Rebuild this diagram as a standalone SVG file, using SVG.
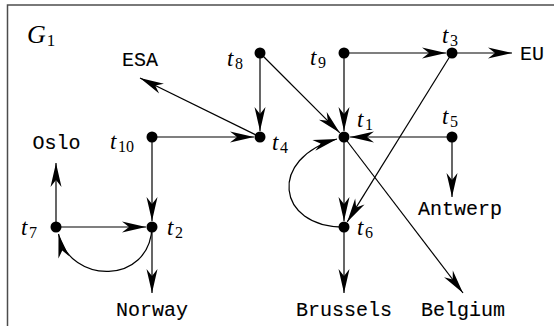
<svg xmlns="http://www.w3.org/2000/svg" width="554" height="326" viewBox="0 0 554 326">
<style>
.frame{fill:none;stroke:#4d4d4d;stroke-width:1.5}
.e{fill:none;stroke:#000;stroke-width:1.2}
.dot{fill:#000}
.m{font-family:"Liberation Serif",serif;font-style:italic;font-size:23px;fill:#000}
.s{font-family:"Liberation Serif",serif;font-style:normal;font-size:16px}
.tt{font-family:"Liberation Mono","DejaVu Sans Mono",monospace;font-size:20px;fill:#000;stroke:#000;stroke-width:0.12;text-anchor:middle}
</style>
<defs>
<marker id="a" markerUnits="userSpaceOnUse" markerWidth="30" markerHeight="16" viewBox="-26 -8 30 16" refX="0" refY="0" orient="auto" overflow="visible">
<path d="M0,0 L-24,-5.5 L-17,0 L-24,5.5 Z" fill="#000"/>
</marker>
</defs>
<rect width="554" height="326" fill="#fff"/>
<path class="frame" d="M7.5,326 V5 H554"/>
<text class="m" x="27" y="43" style="font-size:26px">G<tspan class="s" dx="1" dy="3" style="font-size:17px">1</tspan></text>

<g id="connectors">
<path class="e" marker-end="url(#a)" d="M260,53 V131"/>
<path class="e" marker-end="url(#a)" d="M260,53 L339.8,132.8"/>
<path class="e" marker-end="url(#a)" d="M344,53 V131"/>
<path class="e" marker-end="url(#a)" d="M344,53 H446"/>
<path class="e" marker-end="url(#a)" d="M452,53 H512"/>
<path class="e" marker-end="url(#a)" d="M452,53 L347.2,221.9"/>
<path class="e" marker-end="url(#a)" d="M152,137 H254"/>
<path class="e" marker-end="url(#a)" d="M152,137 V221"/>
<path class="e" marker-end="url(#a)" d="M260,137 L140,78"/>
<path class="e" marker-end="url(#a)" d="M452,137 H350"/>
<path class="e" marker-end="url(#a)" d="M452,137 V197"/>
<path class="e" marker-end="url(#a)" d="M344,137 V221"/>
<path class="e" marker-end="url(#a)" d="M344,137 L463,293"/>
<path class="e" marker-end="url(#a)" d="M344,227 C276,227 268,158 337,139"/>
<path class="e" marker-end="url(#a)" d="M344,227 V293"/>
<path class="e" marker-end="url(#a)" d="M56,227 V163"/>
<path class="e" marker-end="url(#a)" d="M56,227 H146"/>
<path class="e" marker-end="url(#a)" d="M152,227 C150,285 70,285 58.5,234"/>
<path class="e" marker-end="url(#a)" d="M152,227 V293"/>
</g>

<g id="t1"><circle class="dot" cx="344" cy="137" r="5.5"/><text class="m" x="357" y="127">t<tspan class="s" dx="1.5" dy="3">1</tspan></text></g>
<g id="t2"><circle class="dot" cx="152" cy="227" r="5.5"/><text class="m" x="167" y="235">t<tspan class="s" dx="1.5" dy="3">2</tspan></text></g>
<g id="t3"><circle class="dot" cx="452" cy="53" r="5.5"/><text class="m" x="442" y="43">t<tspan class="s" dx="1.5" dy="3">3</tspan></text></g>
<g id="t4"><circle class="dot" cx="260" cy="137" r="5.5"/><text class="m" x="272" y="150">t<tspan class="s" dx="1.5" dy="3">4</tspan></text></g>
<g id="t5"><circle class="dot" cx="452" cy="137" r="5.5"/><text class="m" x="442" y="124">t<tspan class="s" dx="1.5" dy="3">5</tspan></text></g>
<g id="t6"><circle class="dot" cx="344" cy="227" r="5.5"/><text class="m" x="357" y="235">t<tspan class="s" dx="1.5" dy="3">6</tspan></text></g>
<g id="t7"><circle class="dot" cx="56" cy="227" r="5.5"/><text class="m" x="21" y="235">t<tspan class="s" dx="1.5" dy="3">7</tspan></text></g>
<g id="t8"><circle class="dot" cx="260" cy="53" r="5.5"/><text class="m" x="227" y="66">t<tspan class="s" dx="1.5" dy="3">8</tspan></text></g>
<g id="t9"><circle class="dot" cx="344" cy="53" r="5.5"/><text class="m" x="310" y="65">t<tspan class="s" dx="1.5" dy="3">9</tspan></text></g>
<g id="t10"><circle class="dot" cx="152" cy="137" r="5.5"/><text class="m" x="110" y="149">t<tspan class="s" dx="1.5" dy="3">10</tspan></text></g>

<g id="ESA"><text class="tt" x="140" y="66">ESA</text></g>
<g id="EU"><text class="tt" x="532" y="60">EU</text></g>
<g id="Oslo"><text class="tt" x="56.5" y="149">Oslo</text></g>
<g id="Antwerp"><text class="tt" x="460" y="215">Antwerp</text></g>
<g id="Norway"><text class="tt" x="152" y="316">Norway</text></g>
<g id="Brussels"><text class="tt" x="344" y="316">Brussels</text></g>
<g id="Belgium"><text class="tt" x="463" y="316">Belgium</text></g>
</svg>
